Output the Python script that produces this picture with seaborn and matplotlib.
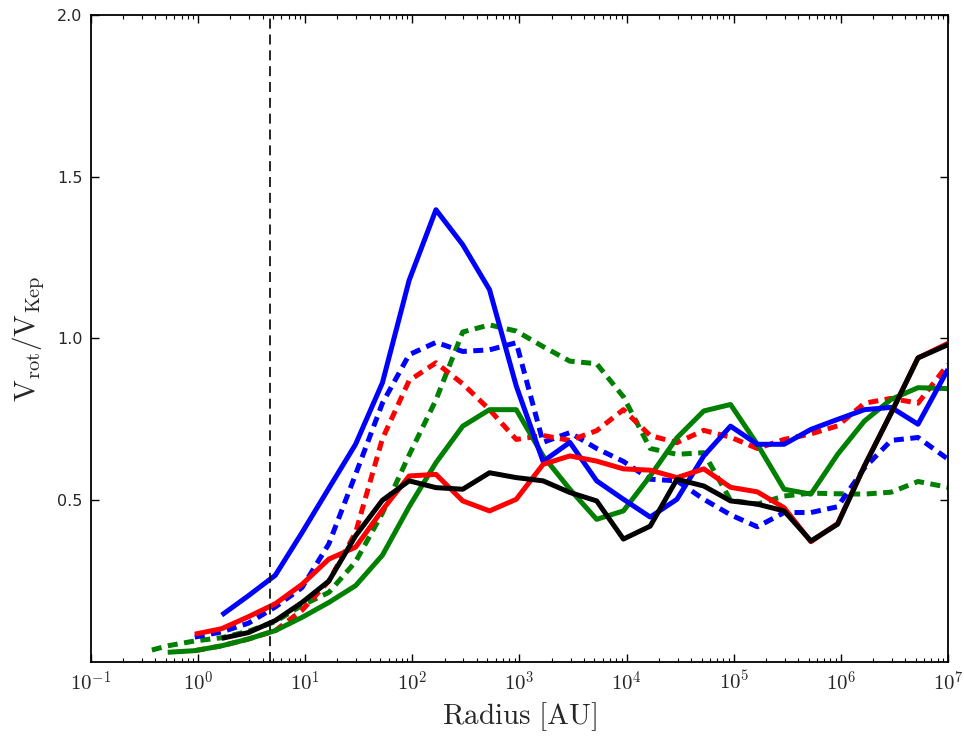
import numpy as np
import pandas as pd
import matplotlib
matplotlib.use("Agg")
import matplotlib.pyplot as plt
from matplotlib.ticker import LogLocator, FixedLocator, FixedFormatter, NullFormatter
import seaborn as sns

# ---- data ----
# common radius grid [AU]
radius = [0.52, 0.93, 1.66, 2.95, 5.25, 9.33, 16.6, 29.5, 52.5, 93.3, 166, 295, 525, 933,
          1660, 2950, 5250, 9330, 16600, 29500, 52500, 93300, 166000, 295000, 525000,
          933000, 1.66e6, 2.95e6, 5.25e6, 1.0e7]

blue_solid = [0.145, 0.205, 0.268, 0.40, 0.537, 0.673, 0.863, 1.18, 1.398, 1.29, 1.151, 0.853,
              0.62, 0.679, 0.56, 0.503, 0.448, 0.503, 0.637, 0.729, 0.673, 0.673, 0.719, 0.75,
              0.78, 0.787, 0.735, 0.905]                      # starts at radius[2]
blue_dashed = [0.077, 0.093, 0.12, 0.17, 0.23, 0.365, 0.58, 0.80, 0.95, 0.988, 0.96, 0.965,
               0.987, 0.679, 0.709, 0.66, 0.62, 0.565, 0.56, 0.503, 0.455, 0.418, 0.462, 0.462,
               0.48, 0.60, 0.685, 0.694, 0.627]               # starts at radius[1]
red_solid = [0.086, 0.103, 0.14, 0.18, 0.24, 0.318, 0.355, 0.47, 0.575, 0.58, 0.498, 0.467,
             0.503, 0.611, 0.637, 0.621, 0.597, 0.593, 0.57, 0.597, 0.54, 0.526, 0.477, 0.372,
             0.428, 0.606, 0.77, 0.94, 0.985]                 # starts at radius[1]
red_dashed = [0.035, 0.05, 0.071, 0.097, 0.16, 0.25, 0.40, 0.69, 0.87, 0.925, 0.86, 0.78,
              0.688, 0.70, 0.685, 0.715, 0.78, 0.70, 0.678, 0.716, 0.695, 0.66, 0.688, 0.705,
              0.73, 0.80, 0.815, 0.80, 0.92]                  # starts at radius[1]
green_solid = [0.03, 0.035, 0.05, 0.071, 0.097, 0.138, 0.184, 0.236, 0.33, 0.48, 0.616, 0.729,
               0.78, 0.78, 0.637, 0.534, 0.441, 0.467, 0.575, 0.693, 0.776, 0.796, 0.673,
               0.534, 0.519, 0.642, 0.745, 0.812, 0.848, 0.845]  # starts at radius[0]
green_dashed_r = [0.37] + radius
green_dashed = [0.037, 0.05, 0.065, 0.075, 0.095, 0.125, 0.175, 0.215, 0.31, 0.46, 0.64, 0.81,
                1.02, 1.042, 1.023, 0.975, 0.93, 0.922, 0.82, 0.66, 0.642, 0.647, 0.50, 0.488,
                0.513, 0.522, 0.52, 0.519, 0.525, 0.558, 0.54]
black_solid = [0.073, 0.091, 0.128, 0.184, 0.25, 0.39, 0.50, 0.56, 0.539, 0.534, 0.585, 0.57,
               0.56, 0.524, 0.498, 0.38, 0.42, 0.565, 0.544, 0.498, 0.488, 0.467, 0.374, 0.426,
               0.606, 0.77, 0.94, 0.981]                      # starts at radius[2]

snowline_au = 4.7

xtick_vals = [1e-1, 1e0, 1e1, 1e2, 1e3, 1e4, 1e5, 1e6, 1e7]
xtick_labels = [r'$10^{-1}$', r'$10^{0}$', r'$10^{1}$', r'$10^{2}$', r'$10^{3}$',
                r'$10^{4}$', r'$10^{5}$', r'$10^{6}$', r'$10^{7}$']
ytick_vals = [0.5, 1.0, 1.5, 2.0]
ytick_labels = ['0.5', '1.0', '1.5', '2.0']

# ---- style ----
sns.set_style("ticks")
plt.rcParams['font.family'] = ['DejaVu Sans']
plt.rcParams['mathtext.fontset'] = 'cm'

fig = plt.figure(figsize=(9.64, 7.39), dpi=100)
ax = fig.add_axes([0.0944, 0.1042, 0.889, 0.8755])

def series(r, v):
    r = r[len(r) - len(v):] if len(r) > len(v) else r
    return pd.DataFrame({"r": r, "v": v})

LW = 3.6
specs = [
    (green_dashed_r, green_dashed, '#008000', True),
    (radius, blue_dashed, '#0000ff', True),
    (radius, red_dashed, '#ff0000', True),
    (radius, green_solid, '#008000', False),
    (radius, blue_solid, '#0000ff', False),
    (radius, red_solid, '#ff0000', False),
    (radius, black_solid, '#000000', False),
]
for r, v, c, dashed in specs:
    df = series(r, v)
    n0 = len(ax.lines)
    sns.lineplot(data=df, x="r", y="v", color=c, lw=LW, ax=ax, sort=False,
                 estimator=None, solid_capstyle='butt', dash_capstyle='butt')
    if dashed:
        for ln in ax.lines[n0:]:
            ln.set_dashes((2.0, 1.3))

ax.axvline(snowline_au, color='k', lw=1.2, dashes=(6, 3.5))

ax.set_xscale('log')
ax.set_xlim(1e-1, 1e7)
ax.set_ylim(0, 2.0)

ax.xaxis.set_major_locator(FixedLocator(xtick_vals))
ax.xaxis.set_major_formatter(FixedFormatter(xtick_labels))
ax.xaxis.set_minor_locator(LogLocator(base=10, subs=np.arange(2, 10), numticks=100))
ax.xaxis.set_minor_formatter(NullFormatter())
ax.yaxis.set_major_locator(FixedLocator(ytick_vals))
ax.yaxis.set_major_formatter(FixedFormatter(ytick_labels))

ax.tick_params(which='both', direction='in', top=True, right=True, color='k')
ax.tick_params(which='major', length=6, width=1)
ax.tick_params(which='minor', length=3, width=0.8)
ax.tick_params(axis='x', which='major', labelsize=15, pad=6)
ax.tick_params(axis='y', which='major', labelsize=11.5, pad=6)

for s in ax.spines.values():
    s.set_visible(True)
    s.set_linewidth(1.3)
    s.set_color('k')

ax.set_xlabel(r'$\mathrm{Radius\ [AU]}$', fontsize=21, labelpad=4)
ax.set_ylabel(r'$\mathrm{V_{rot}/V_{Kep}}$', fontsize=21, labelpad=8)

fig.savefig("out.png", dpi=100)
